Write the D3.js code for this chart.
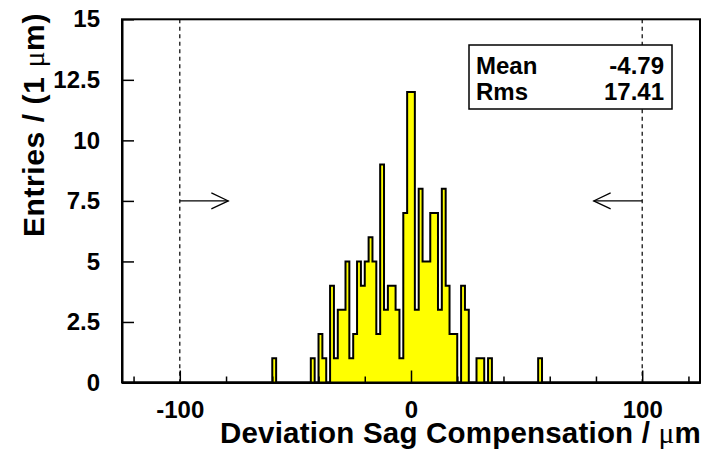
<!DOCTYPE html>
<html>
<head>
<meta charset="utf-8">
<script src="https://cdn.jsdelivr.net/npm/d3@7"></script>
<style>
  body { margin: 0; background: #fff; }
  svg { display: block; }
  text { font-family: "Liberation Sans", Arial, Helvetica, sans-serif; font-weight: bold; fill: #000; }
  .sym { font-family: "Liberation Serif", "DejaVu Serif", serif; font-weight: normal; }
</style>
</head>
<body>
<svg id="chart" width="705" height="450"></svg>
<script>
// Histogram: 150 bins spanning the axis range
const histRange = [-125, 125];
const entries = [
  0,0,0,0,0,0,0,0,0,0,
  0,0,0,0,0,0,0,0,0,0,
  0,0,0,0,0,0,0,0,0,0,
  0,0,0,0,0,0,0,0,0,1,
  0,0,0,0,0,0,0,0,0,1,
  0,2,1,0,4,1,3,3,5,1,
  2,5,4,5,6,5,2,9,3,4,
  4,3,1,7,12,12,3,8,5,5,
  7,7,3,8,4,2,2,0,4,3,
  0,0,1,1,0,1,0,0,0,0,
  0,0,0,0,0,0,0,0,1,0,
  0,0,0,0,0,0,0,0,0,0,
  0,0,0,0,0,0,0,0,0,0,
  0,0,0,0,0,0,0,0,0,0,
  0,0,0,0,0,0,0,0,0,0
];
const yRange = [0, 15];

const xMajorTicks = [-100, 0, 100];
const xMinorTicks = [-120, -80, -60, -40, -20, 20, 40, 60, 80, 120];
const yTicks = [0, 2.5, 5, 7.5, 10, 12.5, 15];

// Selection cuts with arrows pointing to the accepted side
const cutValues = [-100, 100];
const arrowLevel = 7.5;
const arrowLength = 21;

const statNames = ["Mean", "Rms"];
const statValues = ["-4.79", "17.41"];

const frame = { left: 122, right: 700, top: 19.3, bottom: 382.5 };

const svg = d3.select("#chart");
svg.append("rect").attr("width", 705).attr("height", 450).attr("fill", "#fff");

const x = d3.scaleLinear().domain(histRange).range([frame.left, frame.right]);
const y = d3.scaleLinear().domain(yRange).range([frame.bottom, frame.top]);

const nBins = entries.length;
const binW = (histRange[1] - histRange[0]) / nBins;
const pts = entries.map((c, i) => [histRange[0] + i * binW, c]);
pts.push([histRange[1], 0]);

// Filled histogram with step outline
svg.append("path")
  .datum(pts)
  .attr("fill", "#ffff00")
  .attr("stroke", "none")
  .attr("d", d3.area().curve(d3.curveStepAfter).x(d => x(d[0])).y0(y(0)).y1(d => y(d[1])));

svg.append("path")
  .datum(pts)
  .attr("fill", "none")
  .attr("stroke", "#000")
  .attr("stroke-width", 2)
  .attr("d", d3.line().curve(d3.curveStepAfter).x(d => x(d[0])).y(d => y(d[1])));

// Axes with ticks pointing into the frame
const xMajor = svg.append("g")
  .attr("transform", `translate(0,${frame.bottom})`)
  .call(d3.axisBottom(x).tickValues(xMajorTicks).tickSize(-12).tickSizeOuter(0).tickPadding(18)
    .tickFormat(d => d === 0 ? "0" : (d < 0 ? "-" + Math.abs(d) : String(d))));
const xMinor = svg.append("g")
  .attr("transform", `translate(0,${frame.bottom})`)
  .call(d3.axisBottom(x).tickValues(xMinorTicks).tickSize(-6).tickSizeOuter(0).tickFormat(""));
const yAxis = svg.append("g")
  .attr("transform", `translate(${frame.left},0)`)
  .call(d3.axisLeft(y).tickValues(yTicks).tickSize(-12).tickSizeOuter(0).tickPadding(22)
    .tickFormat(d => String(d)));

[xMajor, xMinor, yAxis].forEach(g => {
  g.selectAll("path.domain").attr("stroke", "#000").attr("stroke-width", 2);
  g.selectAll(".tick line").attr("stroke", "#000").attr("stroke-width", 1.5);
  g.selectAll(".tick text")
    .attr("fill", "#000")
    .style("font-family", '"Liberation Sans", Arial, Helvetica, sans-serif')
    .style("font-weight", "bold")
    .style("font-size", "24px");
});

// Frame
svg.append("rect")
  .attr("x", frame.left).attr("y", frame.top)
  .attr("width", frame.right - frame.left).attr("height", frame.bottom - frame.top)
  .attr("fill", "none").attr("stroke", "#000").attr("stroke-width", 2);

// Cut lines and arrows
cutValues.forEach(v => {
  svg.append("line")
    .attr("x1", x(v)).attr("x2", x(v))
    .attr("y1", y(yRange[1])).attr("y2", y(yRange[0]))
    .attr("stroke", "#000").attr("stroke-width", 1.2)
    .attr("stroke-dasharray", "4,3.5");
  const dir = v < 0 ? 1 : -1;
  const tipX = x(v + dir * arrowLength);
  const ay = y(arrowLevel);
  svg.append("line")
    .attr("x1", x(v)).attr("x2", tipX).attr("y1", ay).attr("y2", ay)
    .attr("stroke", "#000").attr("stroke-width", 1.2);
  svg.append("path")
    .attr("d", `M${tipX - dir * 17},${ay - 8}L${tipX},${ay}L${tipX - dir * 17},${ay + 8}`)
    .attr("fill", "none").attr("stroke", "#000").attr("stroke-width", 1.2);
});

// Statistics box
const box = { x: 469, y: 45, w: 203, h: 64 };
svg.append("rect")
  .attr("x", box.x).attr("y", box.y).attr("width", box.w).attr("height", box.h)
  .attr("fill", "#fff").attr("stroke", "#000").attr("stroke-width", 1.5);
statNames.forEach((name, i) => {
  const by = 74 + i * 26;
  svg.append("text").attr("x", box.x + 7).attr("y", by)
    .style("font-size", "24px").text(name);
  svg.append("text").attr("x", box.x + box.w - 8).attr("y", by)
    .attr("text-anchor", "end").style("font-size", "24px").text(statValues[i]);
});

// Axis titles
const xt = svg.append("text")
  .attr("x", 701).attr("y", 443)
  .attr("text-anchor", "end")
  .style("font-size", "29.5px")
  .style("letter-spacing", "0.2px");
xt.append("tspan").text("Deviation Sag Compensation / ");
xt.append("tspan").attr("class", "sym").text("\u03bc");
xt.append("tspan").text("m");

const yt = svg.append("text")
  .attr("transform", "translate(44,13) rotate(-90)")
  .attr("text-anchor", "end")
  .style("font-size", "30px")
  .style("letter-spacing", "0.6px");
yt.append("tspan").text("Entries / (1 ");
yt.append("tspan").attr("class", "sym").text("\u03bc");
yt.append("tspan").text("m)");
</script>
</body>
</html>
